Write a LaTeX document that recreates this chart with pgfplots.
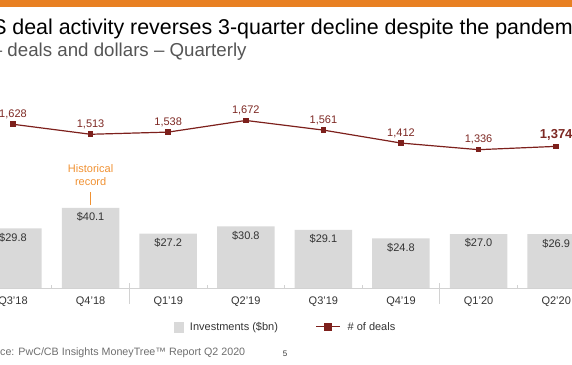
\documentclass[border=0pt]{standalone}
\usepackage{pgfplots}
\pgfplotsset{compat=1.18}
\usepackage{pgfplotstable}
\usepackage{fontspec}
\setmainfont{Liberation Sans}
\definecolor{pwcorange}{RGB}{232,128,34}
\definecolor{barfill}{RGB}{217,217,217}
\definecolor{dealred}{RGB}{125,32,28}
\definecolor{deallabel}{RGB}{125,40,35}
\definecolor{historange}{RGB}{240,145,50}
\definecolor{txtdark}{RGB}{51,51,51}
\definecolor{subgray}{RGB}{85,85,85}
\definecolor{srcgray}{RGB}{110,110,110}
\definecolor{axisgray}{RGB}{210,210,210}

\pgfplotstableread{
x inv deals
0 29.8 1628
1 40.1 1513
2 27.2 1538
3 30.8 1672
4 29.1 1561
5 24.8 1412
6 27.0 1336
7 26.9 1374
}\datatable

\begin{document}
\begin{tikzpicture}
\useasboundingbox (0pt,-364pt) rectangle (572pt,0pt);
\clip (0pt,-364pt) rectangle (572pt,0pt);
\fill[pwcorange] (0pt,0pt) rectangle (572pt,-7pt);
\node[anchor=base west, inner sep=0pt, font=\fontsize{21.4}{25}\selectfont, text=black] at (-23.4pt,-34.5pt) {US deal activity reverses 3-quarter decline despite the pandemic};
\node[anchor=base west, inner sep=0pt, font=\fontsize{18.7}{22}\selectfont, text=subgray] at (-8.3pt,-56pt) {– deals and dollars – Quarterly};
\node[anchor=base west, inner sep=0pt, font=\fontsize{10.7}{13}\selectfont, text=srcgray] at (-22.6pt,-355pt) {Source: PwC/CB Insights MoneyTree™ Report Q2 2020};
\node[anchor=base, inner sep=0pt, font=\fontsize{8}{10}\selectfont, text=txtdark] at (285pt,-356pt) {5};

\begin{axis}[
  at={(-25.8pt,-288pt)}, anchor=south west,
  scale only axis, width=620.8pt, height=120pt,
  xmin=-0.5, xmax=7.5, ymin=0, ymax=60,
  clip=false,
  ybar, bar width=57.5pt,
  axis y line=none,
  axis x line*=bottom,
  x axis line style={draw=axisgray, line width=0.6pt},
  xtick={0,...,7},
  xticklabels={Q3'18,Q4'18,Q1'19,Q2'19,Q3'19,Q4'19,Q1'20,Q2'20},
  major tick length=0pt,
  minor xtick={0.5,2.5,3.5,4.5,6.5},
  minor tick length=3pt,
  tick align=inside,
  minor tick style={draw=axisgray, line width=0.6pt},
  xticklabel style={font=\fontsize{11}{13}\selectfont, text=txtdark, anchor=north, inner sep=0pt, yshift=-9pt},
  /pgf/number format/assume math mode=true,
  nodes near coords={\$\pgfmathprintnumber[fixed,zerofill,precision=1]{\pgfplotspointmeta}},
  every node near coord/.append style={anchor=north, inner sep=0pt, yshift=-4.5pt, font=\fontsize{11}{13}\selectfont, text=txtdark},
]
\addplot[fill=barfill, draw=none] table[x=x,y=inv]{\datatable};
\draw[axisgray, line width=0.6pt] (axis cs:1.5,2.5) -- (axis cs:1.5,-8);
\draw[axisgray, line width=0.6pt] (axis cs:5.5,2.5) -- (axis cs:5.5,-8);
\node[font=\fontsize{11}{13}\selectfont, text=historange, align=center, inner sep=0pt] at (axis cs:1,56.25) {Historical\\record};
\draw[historange, line width=0.6pt] (axis cs:1,48) -- (axis cs:1,41.5);
\end{axis}

\begin{axis}[
  at={(-25.8pt,-288pt)}, anchor=south west,
  scale only axis, width=620.8pt, height=174pt,
  xmin=-0.5, xmax=7.5, ymin=-254, ymax=1746,
  clip=false, axis lines=none,
  /pgf/number format/assume math mode=true,
  /pgf/number format/1000 sep={,},
  legend columns=2,
  legend style={at={(0.5,-0.2241)}, anchor=center, draw=none, fill=none,
    font=\fontsize{11}{13}\selectfont, text=txtdark,
    nodes={inner sep=0pt},
    /tikz/every odd column/.append style={column sep=6.7pt},
    /tikz/every even column/.append style={column sep=37.7pt}},
]
\addlegendimage{legend image code/.code={\fill[barfill] (0pt,-5pt) rectangle (9pt,4.5pt);}}
\addlegendentry{Investments (\$bn)}
\addplot[dealred, line width=1.2pt, mark=square*, mark size=2.2pt, mark options={solid},
  visualization depends on={value \coordindex \as \idx},
  nodes near coords={\ifnum\idx=7 \fontsize{13}{15}\selectfont\bfseries\fi\pgfmathprintnumber{\pgfplotspointmeta}},
  every node near coord/.append style={anchor=south, inner sep=0pt, yshift=4.9pt, font=\fontsize{11}{13}\selectfont, text=deallabel},
  legend image code/.code={\draw[dealred, line width=1.2pt] (0pt,0pt) -- (24pt,0pt); \fill[dealred] (8.5pt,-3.5pt) rectangle (15.5pt,3.5pt);}
] table[x=x,y=deals]{\datatable};
\addlegendentry{\# of deals}
\end{axis}
\end{tikzpicture}
\end{document}
